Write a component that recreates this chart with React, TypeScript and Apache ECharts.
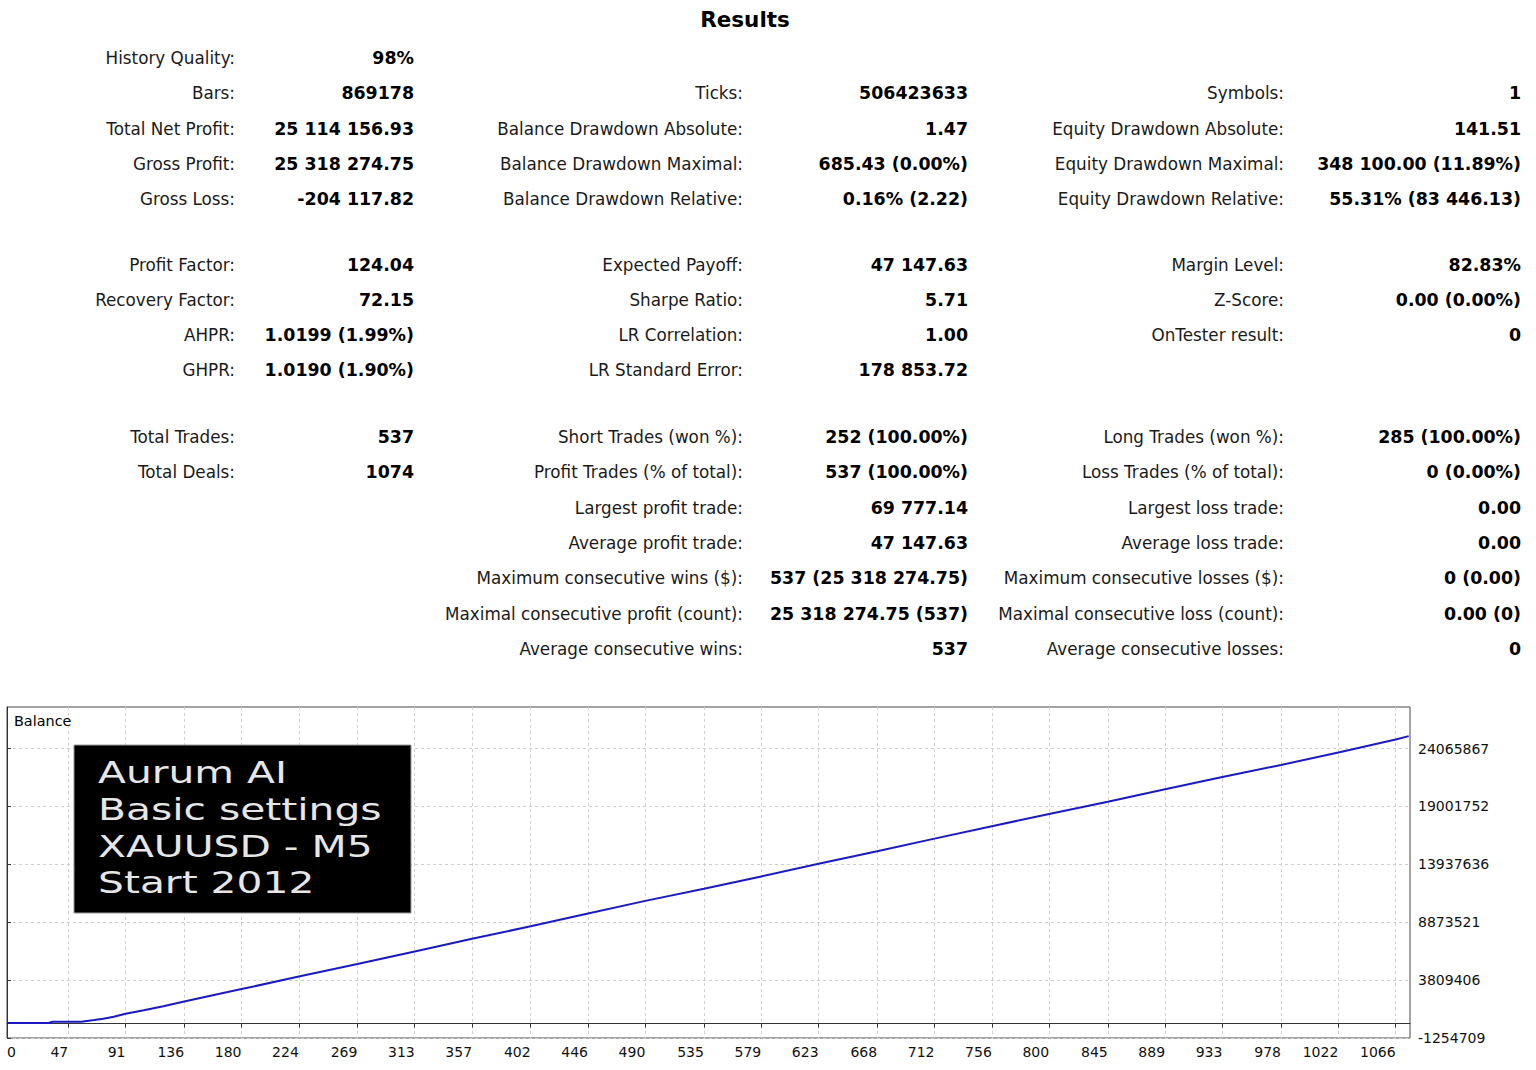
import { useEffect, useRef } from 'react';
import * as echarts from 'echarts';

const pageTitle = 'Results';

// each row: [label, value] x 3 columns, '' = empty cell
const summaryBlock = [
  ['History Quality:', '98%', '', '', '', ''],
  ['Bars:', '869178', 'Ticks:', '506423633', 'Symbols:', '1'],
  ['Total Net Profit:', '25 114 156.93', 'Balance Drawdown Absolute:', '1.47', 'Equity Drawdown Absolute:', '141.51'],
  ['Gross Profit:', '25 318 274.75', 'Balance Drawdown Maximal:', '685.43 (0.00%)', 'Equity Drawdown Maximal:', '348 100.00 (11.89%)'],
  ['Gross Loss:', '-204 117.82', 'Balance Drawdown Relative:', '0.16% (2.22)', 'Equity Drawdown Relative:', '55.31% (83 446.13)'],
];

const ratioBlock = [
  ['Profit Factor:', '124.04', 'Expected Payoff:', '47 147.63', 'Margin Level:', '82.83%'],
  ['Recovery Factor:', '72.15', 'Sharpe Ratio:', '5.71', 'Z-Score:', '0.00 (0.00%)'],
  ['AHPR:', '1.0199 (1.99%)', 'LR Correlation:', '1.00', 'OnTester result:', '0'],
  ['GHPR:', '1.0190 (1.90%)', 'LR Standard Error:', '178 853.72', '', ''],
];

const tradesBlock = [
  ['Total Trades:', '537', 'Short Trades (won %):', '252 (100.00%)', 'Long Trades (won %):', '285 (100.00%)'],
  ['Total Deals:', '1074', 'Profit Trades (% of total):', '537 (100.00%)', 'Loss Trades (% of total):', '0 (0.00%)'],
  ['', '', 'Largest profit trade:', '69 777.14', 'Largest loss trade:', '0.00'],
  ['', '', 'Average profit trade:', '47 147.63', 'Average loss trade:', '0.00'],
  ['', '', 'Maximum consecutive wins ($):', '537 (25 318 274.75)', 'Maximum consecutive losses ($):', '0 (0.00)'],
  ['', '', 'Maximal consecutive profit (count):', '25 318 274.75 (537)', 'Maximal consecutive loss (count):', '0.00 (0)'],
  ['', '', 'Average consecutive wins:', '537', 'Average consecutive losses:', '0'],
];

const chartLabel = 'Balance';
const watermarkLines = ['Aurum AI', 'Basic settings', 'XAUUSD - M5', 'Start 2012'];

// x axis tick labels (deal number) and y axis tick labels (balance)
const dealTicks = [0, 47, 91, 136, 180, 224, 269, 313, 357, 402, 446, 490, 535, 579, 623, 668, 712, 756, 800, 845, 889, 933, 978, 1022, 1066];
const balanceTicks = [-1254709, 3809406, 8873521, 13937636, 19001752, 24065867];

// balance curve
const dealNo = [0, 32, 35, 57, 67, 74, 82, 91, 105, 120, 136, 180, 224, 269, 313, 357, 402, 446, 490, 535, 579, 623, 668, 712, 756, 800, 845, 889, 933, 978, 1022, 1066, 1076];
const balance = [55000, 60000, 170000, 175000, 317000, 430000, 605000, 867000, 1165000, 1525000, 1930000, 3024000, 4120000, 5211000, 6316000, 7420000, 8520000, 9642000, 10740000, 11794000, 12879000, 13986000, 15077000, 16184000, 17275000, 18336000, 19412000, 20503000, 21573000, 22630000, 23724000, 24852000, 25150000];

const FONT = "'DejaVu Sans', Tahoma, sans-serif";

export default function App() {
  const ref = useRef<HTMLDivElement>(null);

  useEffect(() => {
    if (!ref.current) return;
    const chart = echarts.init(ref.current, undefined, { renderer: 'svg' });

    const graphic: any[] = [];
    graphic.push({
      type: 'text', x: 745, y: 19,
      style: { text: pageTitle, font: `bold 21.5px ${FONT}`, fill: '#000', textAlign: 'center', textVerticalAlign: 'middle' },
    });

    const labelRight = [235, 743, 1284];
    const valueRight = [414, 968, 1521];
    const blocks = [summaryBlock, ratioBlock, tradesBlock];
    const blockTop = [58, 264.5, 437];
    blocks.forEach((rows, b) => {
      rows.forEach((row, r) => {
        const y = blockTop[b] + r * 35.3;
        for (let c = 0; c < 3; c++) {
          const label = row[c * 2];
          const value = row[c * 2 + 1];
          if (label) {
            graphic.push({
              type: 'text', x: labelRight[c], y,
              style: { text: label, font: `16.8px ${FONT}`, fill: '#1a1a1a', textAlign: 'right', textVerticalAlign: 'middle' },
            });
          }
          if (value) {
            graphic.push({
              type: 'text', x: valueRight[c], y,
              style: { text: value, font: `bold 17.4px ${FONT}`, fill: '#000', textAlign: 'right', textVerticalAlign: 'middle' },
            });
          }
        }
      });
    });

    graphic.push({
      type: 'text', x: 14, y: 721, z: 10,
      style: { text: chartLabel, font: `14.4px ${FONT}`, fill: '#000', textAlign: 'left', textVerticalAlign: 'middle' },
    });

    // watermark box over the plot
    graphic.push({
      type: 'rect', x: 74, y: 745, z: 10,
      shape: { width: 337, height: 168 },
      style: { fill: '#000', stroke: '#9a9a9a', lineWidth: 1 },
    });
    const lineYs = [772.5, 809.5, 846.5, 882.5];
    watermarkLines.forEach((t, i) => {
      graphic.push({
        type: 'text', x: 98, y: lineYs[i], z: 11, scaleX: 1.36,
        style: { text: t, font: `30px ${FONT}`, fill: '#e6e6e6', textAlign: 'left', textVerticalAlign: 'middle' },
      });
    });

    chart.setOption({
      animation: false,
      backgroundColor: '#fff',
      grid: {
        left: 7, right: 126, top: 707, bottom: 32,
        show: true, borderColor: '#4a4a4a', borderWidth: 1, backgroundColor: '#fff',
      },
      xAxis: {
        type: 'value', min: 0, max: 1077,
        axisLine: { show: true, lineStyle: { color: '#333' } },
        axisTick: { show: true, customValues: dealTicks, length: 4, lineStyle: { color: '#333' } },
        axisLabel: {
          customValues: dealTicks, formatter: (v: number) => String(v),
          align: 'right', alignMinLabel: 'left', margin: 7,
          fontFamily: FONT, fontSize: 14, color: '#111',
        },
        splitLine: { show: true, lineStyle: { color: '#cfcfcf', type: [3, 3], width: 1 } },
      },
      yAxis: {
        type: 'value', position: 'right', min: -1254709, max: 27700000,
        axisLine: { show: true, lineStyle: { color: '#333' } },
        axisTick: { show: true, customValues: balanceTicks, length: 4, lineStyle: { color: '#333' } },
        axisLabel: {
          customValues: balanceTicks, formatter: (v: number) => String(v),
          margin: 8, fontFamily: FONT, fontSize: 14, color: '#111',
        },
        splitLine: { show: true, lineStyle: { color: '#cfcfcf', type: [3, 3], width: 1 } },
      },
      series: [{
        type: 'line',
        data: dealNo.map((d, i) => [d, balance[i]]),
        showSymbol: false,
        lineStyle: { color: '#1a1ac4', width: 2 },
        z: 3,
      }],
      graphic,
    });

    return () => chart.dispose();
  }, []);

  return <div ref={ref} style={{ position: 'absolute', left: 0, top: 0, width: 1536, height: 1070 }} />;
}
